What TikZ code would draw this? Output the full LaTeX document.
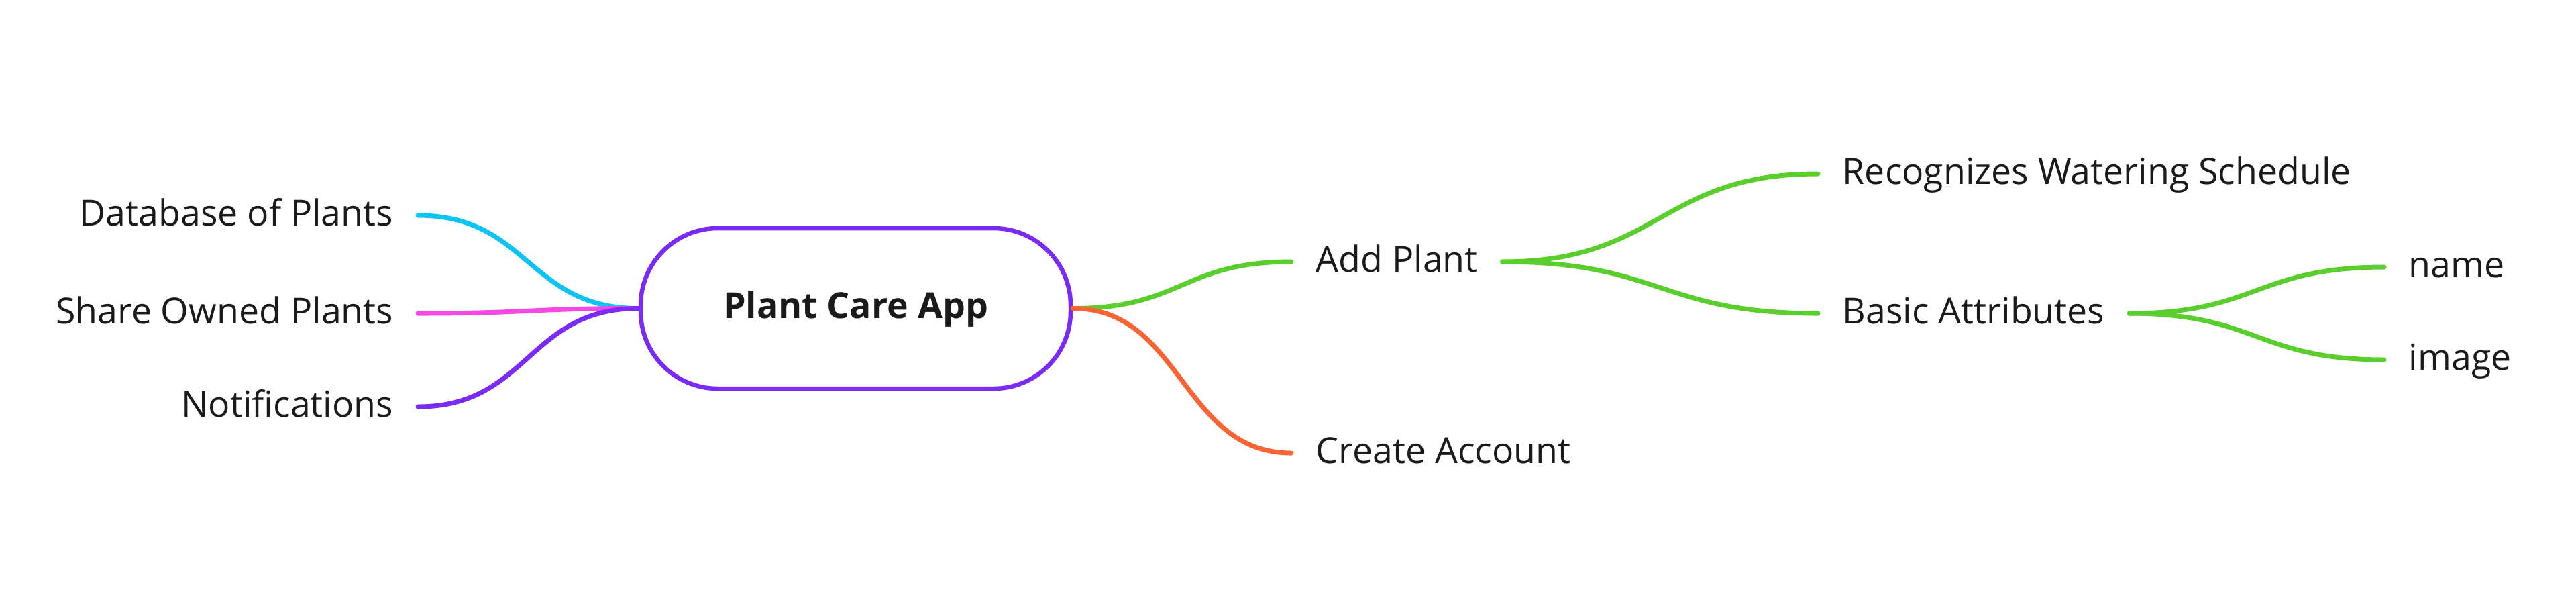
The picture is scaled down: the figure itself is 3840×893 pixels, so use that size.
\documentclass[tikz,border=0pt]{standalone}
\usepackage{fontspec}
\setmainfont{Open Sans}
\usetikzlibrary{calc}
\definecolor{cCyan}{HTML}{0DC4F4}
\definecolor{cMag}{HTML}{F748E3}
\definecolor{cPurple}{HTML}{7A2BF7}
\definecolor{cGreen}{HTML}{5ACE2D}
\definecolor{cOrange}{HTML}{FA6435}
\definecolor{cText}{HTML}{1A1A1A}
\newcommand\mmlink[3]{\draw[mmline,#1] let \p1=(#2), \p2=(#3) in (\p1) .. controls ({(\x1+\x2)/2},\y1) and ({(\x1+\x2)/2},\y2) .. (\p2);}
\begin{document}
\begin{tikzpicture}[x=0.25pt,y=-0.25pt,
  every node/.style={font=\fontsize{13.4pt}{16pt}\selectfont, text=cText},
  mmline/.style={line width=1.75pt, line cap=round},
  leaf/.style={inner xsep=9pt, inner ysep=0pt, text height=7.5pt, text depth=0pt},
  lnode/.style={leaf, anchor=east},
  rnode/.style={leaf, anchor=west},
  central/.style={draw=cPurple, line width=1.625pt, rounded corners=28.75pt,
    minimum width=160.25pt, minimum height=59.75pt, fill=white,
    text height=7.25pt, text depth=0pt, font=\fontsize{13.4pt}{16pt}\selectfont\bfseries}]
\useasboundingbox (0,0) rectangle (3840,893);
\node[central] (app) at (1275.5,459.5) {Plant Care App};
% left
\node[lnode] (db) at (623,321) {Database of Plants};
\node[lnode] (share) at (623,467) {Share Owned Plants};
\node[lnode] (notif) at (623,606) {Notifications};
% right
\node[rnode] (add) at (1925,390) {Add Plant};
\node[rnode] (acct) at (1925,675) {Create Account};
\node[rnode] (rec) at (2710,259) {Recognizes Watering Schedule};
\node[rnode] (basic) at (2710,467) {Basic Attributes};
\node[rnode] (name) at (3554,398) {name};
\node[rnode] (img) at (3554,536) {image};
% connectors
\mmlink{cCyan}{db.east}{app.west}
\mmlink{cMag}{share.east}{app.west}
\mmlink{cPurple}{notif.east}{app.west}
\mmlink{cGreen}{app.east}{add.west}
\mmlink{cOrange}{app.east}{acct.west}
\mmlink{cGreen}{add.east}{rec.west}
\mmlink{cGreen}{add.east}{basic.west}
\mmlink{cGreen}{basic.east}{name.west}
\mmlink{cGreen}{basic.east}{img.west}
\end{tikzpicture}
\end{document}
